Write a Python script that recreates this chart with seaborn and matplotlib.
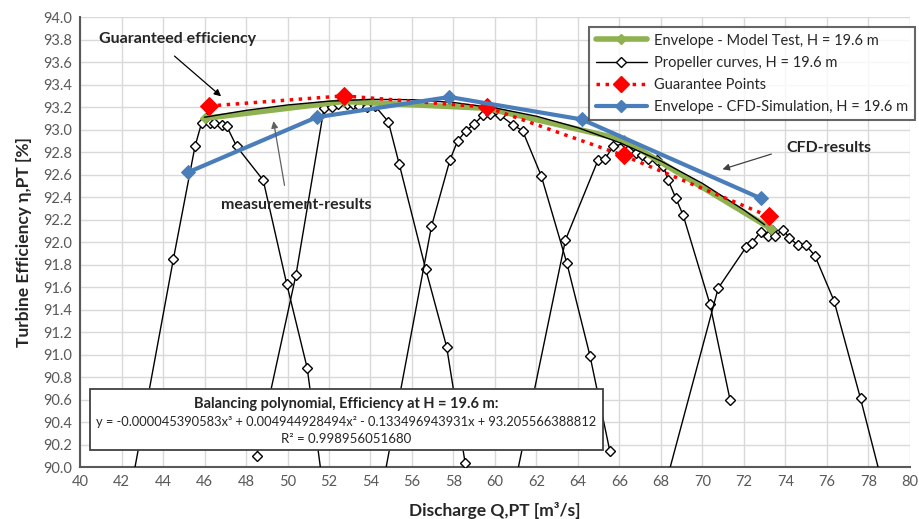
import numpy as np
import pandas as pd
import matplotlib
matplotlib.use("Agg")
import matplotlib.pyplot as plt
from matplotlib.patches import Rectangle
from matplotlib.lines import Line2D
import seaborn as sns

# propeller curves (measured points, one list per blade angle)
c1_x = [42.4, 44.50, 45.54, 45.86, 46.07, 46.27, 46.47, 46.82, 47.07, 47.55, 48.83, 49.96, 50.95, 51.8]
c1_y = [89.75, 91.85, 92.85, 93.06, 93.10, 93.06, 93.06, 93.04, 93.03, 92.85, 92.55, 91.63, 90.88, 89.70]
c2_x = [48.51, 50.41, 51.76, 52.13, 52.45, 52.85, 53.17, 53.46, 53.81, 54.22, 54.86, 55.39, 56.66, 57.67, 58.56]
c2_y = [90.10, 91.71, 93.19, 93.20, 93.23, 93.23, 93.23, 93.21, 93.20, 93.21, 93.07, 92.69, 91.76, 91.07, 90.04]
c3_x = [54.5, 56.94, 57.83, 58.20, 58.60, 59.00, 59.43, 59.76, 60.24, 60.88, 61.33, 62.23, 63.47, 64.58, 65.54]
c3_y = [89.75, 92.14, 92.73, 92.90, 92.99, 93.05, 93.13, 93.14, 93.13, 93.04, 92.99, 92.59, 91.81, 90.99, 90.14]
c4_x = [60.85, 63.40, 64.97, 65.30, 65.70, 66.27, 66.80, 67.11, 67.39, 67.79, 68.11, 68.35, 68.72, 69.07, 70.36, 71.33]
c4_y = [89.75, 92.02, 92.73, 92.74, 92.85, 92.88, 92.79, 92.77, 92.74, 92.73, 92.68, 92.55, 92.39, 92.24, 91.45, 90.60]
c5_x = [68.1, 70.76, 72.12, 72.37, 72.80, 73.17, 73.33, 73.49, 73.89, 74.18, 74.61, 74.99, 75.42, 76.34, 77.62, 78.8]
c5_y = [89.76, 91.59, 91.96, 91.99, 92.09, 92.05, 92.11, 92.05, 92.11, 92.04, 91.97, 91.97, 91.88, 91.48, 90.61, 89.76]

# envelope - model test
mt_x = [46.0, 52.7, 59.6, 66.2, 73.3]
mt_y = [93.10, 93.25, 93.19, 92.91, 92.12]

# balancing polynomial
poly_x = [46, 48, 50, 52, 54, 56, 58, 60, 62, 64, 66, 68, 70, 72, 73]
poly_y = [93.110, 93.171, 93.219, 93.253, 93.269, 93.266, 93.241, 93.193, 93.119,
          93.017, 92.885, 92.721, 92.522, 92.286, 92.154]

# guarantee points
gp_x = [46.2, 52.7, 59.6, 66.2, 73.2]
gp_y = [93.21, 93.30, 93.20, 92.77, 92.23]

# envelope - CFD simulation
cfd_x = [45.2, 51.4, 57.8, 64.2, 72.8]
cfd_y = [92.62, 93.11, 93.29, 93.09, 92.39]

prop = pd.concat([
    pd.DataFrame({"Q": x, "eta": y, "curve": i})
    for i, (x, y) in enumerate([(c1_x, c1_y), (c2_x, c2_y), (c3_x, c3_y),
                                (c4_x, c4_y), (c5_x, c5_y)])
])

sns.set_style("whitegrid")
plt.rcParams["font.family"] = ["Lato", "DejaVu Sans"]

fig, ax = plt.subplots(figsize=(9.2, 5.19), dpi=100)
fig.subplots_adjust(left=0.087, right=0.989, top=0.967, bottom=0.100)

green = "#8FB14F"
blue = "#4A7EBB"

for cid, g in prop.groupby("curve"):
    sns.lineplot(data=g, x="Q", y="eta", sort=False, estimator=None, ax=ax,
                 color="black", lw=1.0, marker="D", markersize=5,
                 markerfacecolor="white", markeredgecolor="black", markeredgewidth=1.0,
                 zorder=3)

sns.lineplot(x=mt_x, y=mt_y, ax=ax, color=green, lw=4, marker="D", markersize=5,
             markeredgecolor=green, zorder=4, sort=False)
sns.lineplot(x=poly_x, y=poly_y, ax=ax, color="black", lw=1.0, zorder=5, sort=False)
sns.lineplot(x=gp_x, y=gp_y, ax=ax, color="red", lw=2.5, linestyle=(0, (1, 1.6)),
             marker="D", markersize=9, markeredgecolor="red", zorder=6, sort=False)
sns.lineplot(x=cfd_x, y=cfd_y, ax=ax, color=blue, lw=3, marker="D", markersize=7,
             markeredgecolor=blue, zorder=7, sort=False)

ax.set_xlim(40, 80)
ax.set_ylim(90, 94)
ax.set_xticks(np.arange(40, 81, 2))
ax.set_yticks(np.arange(90, 94.01, 0.2))
ax.set_yticklabels([f"{v:.1f}" for v in np.arange(90, 94.01, 0.2)])
ax.tick_params(axis="both", length=0, labelsize=10.5, labelcolor="#595959", pad=6)
ax.grid(True, color="#D9D9D9", lw=1.0)
for s in ["top", "right"]:
    ax.spines[s].set_visible(False)
for s in ["left", "bottom"]:
    ax.spines[s].set_color("#595959")
    ax.spines[s].set_linewidth(1.5)

ax.set_xlabel("Discharge Q,PT [m³/s]", fontsize=12.5, fontweight="bold", labelpad=9)
ax.set_ylabel("Turbine Efficiency η,PT [%]", fontsize=12.5, fontweight="bold", labelpad=8)

# legend
handles = [
    Line2D([], [], color=green, lw=4, marker="D", markersize=5),
    Line2D([], [], color="black", lw=1.0, marker="D", markersize=5, markerfacecolor="white"),
    Line2D([], [], color="red", lw=2.5, linestyle=(0, (1, 1.6)), marker="D", markersize=8),
    Line2D([], [], color=blue, lw=3, marker="D", markersize=6),
]
labels = ["Envelope - Model Test, H = 19.6 m", "Propeller curves, H = 19.6 m",
          "Guarantee Points", "Envelope - CFD-Simulation, H = 19.6 m"]
leg = ax.legend(handles, labels, loc="upper right", bbox_to_anchor=(1.006, 0.978),
                borderaxespad=0, fontsize=10.5, frameon=True, fancybox=False,
                handlelength=3.5, labelspacing=0.55, borderpad=0.45, handletextpad=0.5)
leg.get_frame().set_edgecolor("#404040")
leg.get_frame().set_linewidth(1.5)
leg.set_zorder(10)

# annotations
ax.text(44.7, 93.81, "Guaranteed efficiency", fontsize=11.5, fontweight="bold",
        ha="center", va="center", zorder=9)
ax.annotate("", xy=(46.9, 93.28), xytext=(44.45, 93.67),
            arrowprops=dict(arrowstyle="-|>", color="black", lw=0.9), zorder=9)
ax.text(50.4, 92.33, "measurement-results", fontsize=11.5, fontweight="bold",
        ha="center", va="center", zorder=9)
ax.annotate("", xy=(49.3, 93.10), xytext=(49.88, 92.48),
            arrowprops=dict(arrowstyle="-|>", color="#606060", lw=0.9), zorder=9)
ax.text(76.1, 92.84, "CFD-results", fontsize=11.5, fontweight="bold",
        ha="center", va="center", zorder=9)
ax.annotate("", xy=(70.84, 92.64), xytext=(73.45, 92.79),
            arrowprops=dict(arrowstyle="-|>", color="#404040", lw=0.9), zorder=9)

# polynomial box
ax.add_patch(Rectangle((40.48, 90.15), 65.2 - 40.48, 90.69 - 90.15, facecolor="white",
                       edgecolor="#404040", lw=1.3, zorder=8))
ax.text(52.84, 90.56, "Balancing polynomial, Efficiency at H = 19.6 m:", fontsize=10.5,
        fontweight="bold", ha="center", va="center", zorder=9)
ax.text(52.84, 90.40, "y = -0.000045390583x³ + 0.004944928494x² - 0.133496943931x + 93.205566388812",
        fontsize=9.3, ha="center", va="center", zorder=9)
ax.text(52.84, 90.25, "R² = 0.998956051680", fontsize=9.5, ha="center", va="center", zorder=9)

fig.savefig("out.png", dpi=100)
